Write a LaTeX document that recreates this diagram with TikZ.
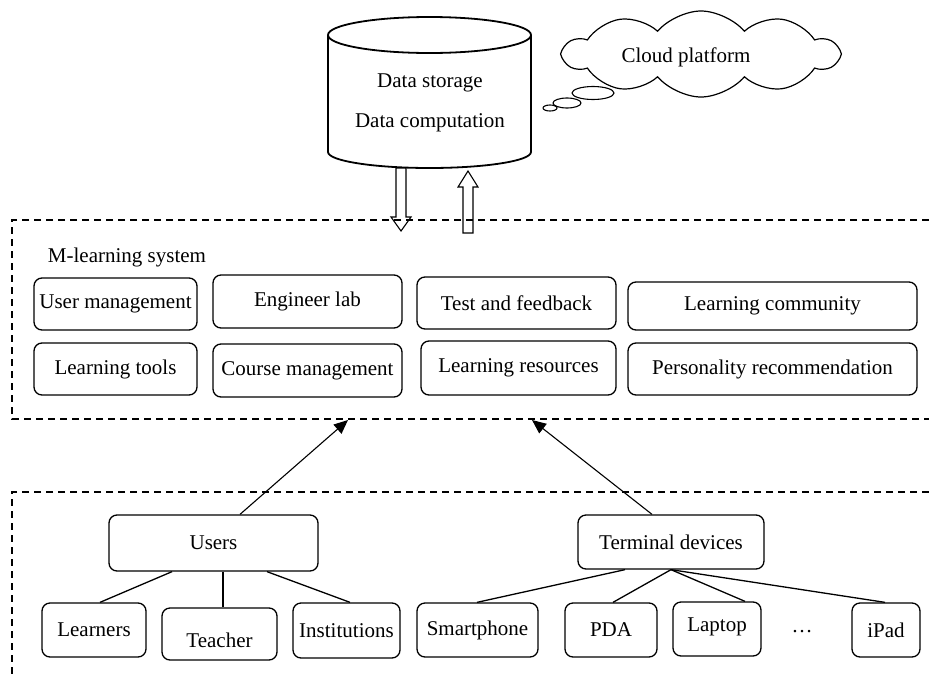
\documentclass[tikz,border=0pt]{standalone}
\usepackage{fontspec}
\setmainfont{Liberation Serif}
\usetikzlibrary{arrows.meta,shapes.symbols}
\begin{document}
\begin{tikzpicture}[x=1pt,y=-1pt,
  every node/.style={font=\fontsize{21}{25}\selectfont},
  box/.style={draw,rounded corners=8pt,line width=1.3pt,inner sep=0pt,align=center},
  frame/.style={line width=1.4pt,dash pattern=on 7pt off 5pt},
  link/.style={line width=1.3pt},
  uparrow/.style={line width=1.1pt,-{Triangle[length=14pt,width=12pt]}},
  hollow/.style={draw,line width=1.1pt,fill=white}]
\useasboundingbox (0,0) rectangle (929,675);

% database cylinder
\draw[line width=1.8pt,fill=white] (328,35) -- (328,152) arc[start angle=180,end angle=0,x radius=101.5,y radius=16] -- (531,35);
\draw[line width=1.8pt] (429.5,35) ellipse [x radius=101.5,y radius=18];
\node (store) at (430,83) {Data storage};
\node (comp) at (430,123) {Data computation};

% cloud
\node[cloud,draw,line width=1.2pt,cloud puffs=10,cloud puff arc=100,aspect=3,minimum width=274pt,minimum height=86pt,inner sep=0pt] (cloud) at (701,54) {};
\node (cloudtext) at (686,57) {Cloud platform};
\draw[line width=1.1pt,fill=white] (593,93) ellipse [x radius=21,y radius=6.5];
\draw[line width=1.1pt] (567,103) ellipse [x radius=14,y radius=5];
\draw[line width=1.1pt] (550,108) ellipse [x radius=7,y radius=3];

% hollow arrows
\draw[hollow] (396,168) -- (406,168) -- (406,217) -- (411,217) -- (401,231) -- (391,217) -- (396,217) -- cycle;
\draw[hollow] (463,233) -- (473,233) -- (473,187) -- (478,187) -- (468,171) -- (458,187) -- (463,187) -- cycle;

% frames
\draw[frame] (929,220) -- (12,220) -- (12,419) -- (929,419);
\draw[frame] (929,492) -- (12,492) -- (12,675);

\node (mls) at (127,257) {M-learning system};

% M-learning modules
\node[box,minimum width=163pt,minimum height=52pt] (um) at (115.5,304) {User management};
\node[box,minimum width=189pt,minimum height=53pt] (el) at (307.5,301.5) {Engineer lab};
\node[box,minimum width=199pt,minimum height=52pt] (tf) at (516.5,303) {Test and feedback};
\node[box,minimum width=289pt,minimum height=48pt] (lc) at (772.5,306) {Learning community};
\node[box,minimum width=163pt,minimum height=52pt] (lt) at (115.5,369) {Learning tools};
\node[box,minimum width=189pt,minimum height=53pt] (cm) at (307.5,370.5) {Course management};
\node[box,minimum width=195pt,minimum height=54pt] (lr) at (518.5,368) {Learning resources};
\node[box,minimum width=289pt,minimum height=52pt] (pr) at (772.5,369) {Personality recommendation};

% bottom level
\node[box,minimum width=209pt,minimum height=56pt] (users) at (213.5,543) {Users};
\node[box,minimum width=186pt,minimum height=54pt] (term) at (671,542) {Terminal devices};

\node[box,minimum width=104pt,minimum height=54pt] (learners) at (94,630) {Learners};
\node[box,minimum width=115pt,minimum height=52pt] (teacher) at (219.5,634) {\raisebox{-6pt}[\height][\depth]{Teacher}};
\node[box,minimum width=107pt,minimum height=55pt] (inst) at (346.5,630.5) {Institutions};
\node[box,minimum width=121pt,minimum height=54pt] (smart) at (477.5,630) {Smartphone};
\node[box,minimum width=92pt,minimum height=54pt] (pda) at (611,630) {PDA};
\node[box,minimum width=88pt,minimum height=54pt] (laptop) at (717,629) {\raisebox{2pt}[\height][\depth]{Laptop}};
\node (dots) at (802,632) {…};
\node[box,minimum width=68pt,minimum height=54pt] (ipad) at (886,630) {iPad};

% tree links
\draw[link] ([xshift=-41.5pt]users.south) -- ([xshift=6pt]learners.north);
\draw[link] ([xshift=9.5pt]users.south) -- ([xshift=3.5pt]teacher.north);
\draw[link] ([xshift=53.5pt]users.south) -- ([xshift=3.5pt]inst.north);
\draw[link] ([xshift=-46pt]term.south) -- ([xshift=-0.5pt]smart.north);
\draw[link] (term.south) -- ([xshift=2pt]pda.north);
\draw[link] (term.south) -- ([xshift=28pt]laptop.north);
\draw[link] (term.south) -- ([xshift=-1pt]ipad.north);

% arrows into the M-learning system
\coordinate (tipA) at (348,420);
\coordinate (tipB) at (532,420);
\draw[uparrow] ([xshift=26.5pt]users.north) -- (tipA);
\draw[uparrow] ([xshift=-19pt]term.north) -- (tipB);
\end{tikzpicture}
\end{document}
